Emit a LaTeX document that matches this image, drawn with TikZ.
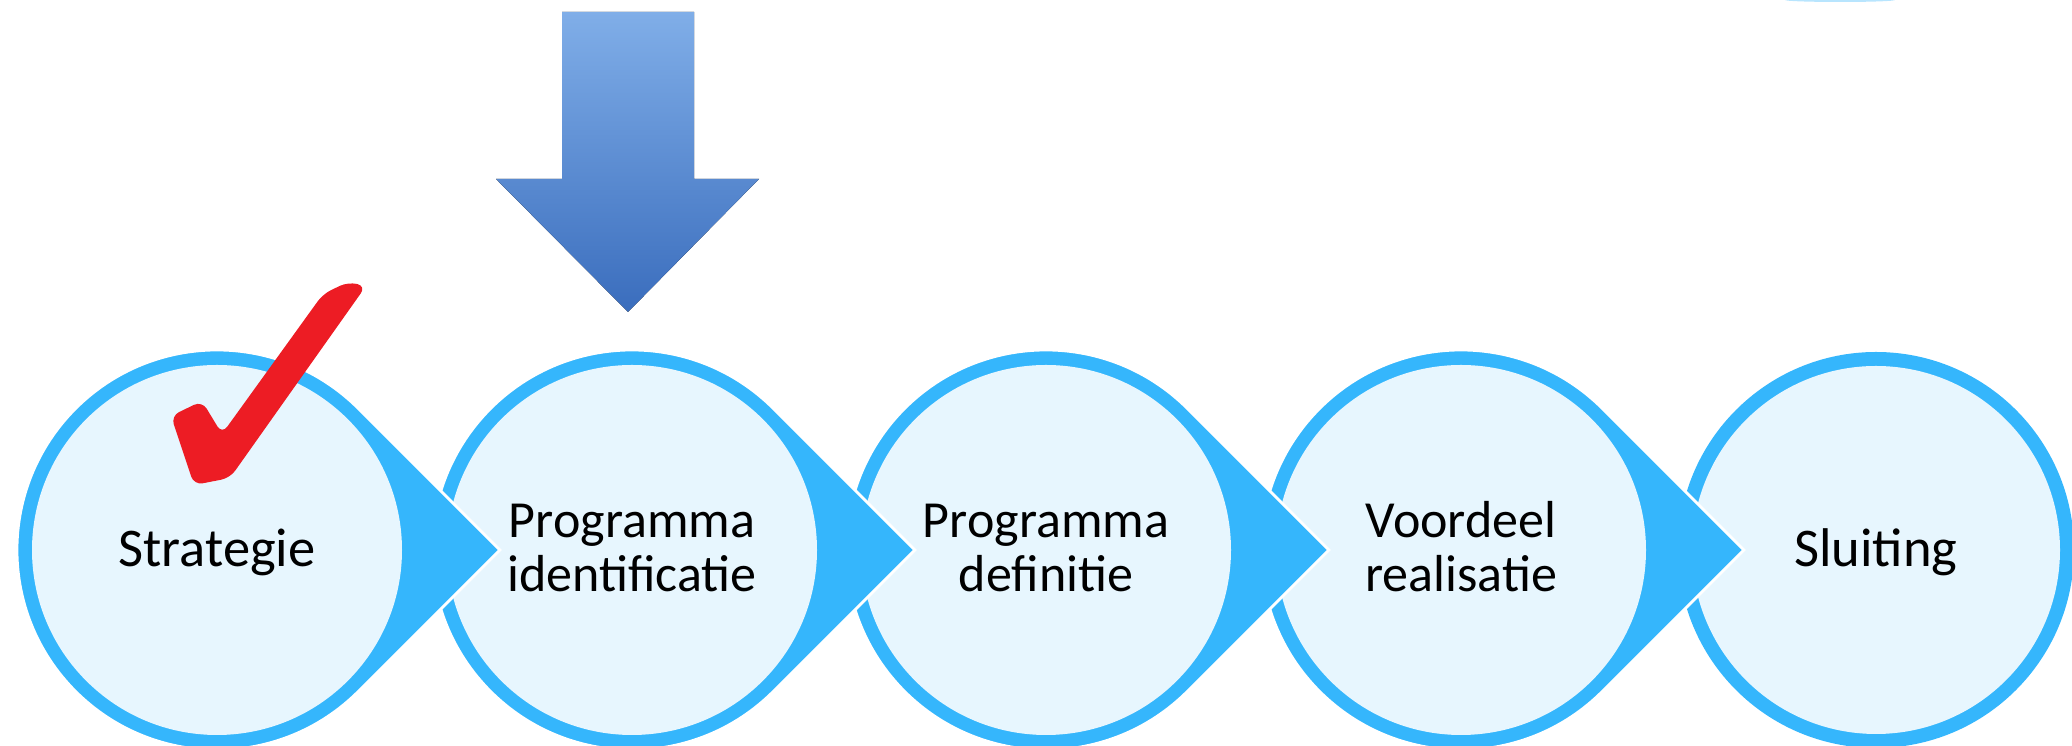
\documentclass[tikz,border=0pt]{standalone}
\usepackage{fontspec}
\setmainfont{Carlito}
\usepackage{tikz}
\definecolor{stageBlue}{HTML}{35B6FC}
\definecolor{stageFill}{HTML}{E7F6FE}
\definecolor{arrowTop}{HTML}{80AEE8}
\definecolor{arrowBottom}{HTML}{3A6DBD}
\definecolor{checkRed}{HTML}{ED1C24}
\tikzset{
  stageRing/.style={fill=stageBlue, draw=white, line width=0.8pt},
  stageInner/.style={fill=stageFill},
  oneLine/.style={font=\fontsize{15.5}{18}\selectfont, anchor=base},
  twoLines/.style={font=\fontsize{14.8}{15.6}\selectfont, align=center, anchor=base}
}
% #1 name, #2 x of centre, #3 text, #4 text style, #5 y of last baseline
\newcommand{\drawStage}[5]{
  \filldraw[stageRing] (#2+141.4,337.4) -- (#2+282.8,196) -- (#2+141.4,54.6)
    arc[start angle=-45, end angle=-315, radius=200] -- cycle;
  \fill[stageInner] (#2,196) circle[radius=185];
  \node[#4] (#1) at (#2,#5) {#3};
}
% same, without the point
\newcommand{\drawEndStage}[5]{
  \fill[stageBlue] (#2,196) circle[radius=198];
  \fill[stageInner] (#2,196) circle[radius=184];
  \node[#4] (#1) at (#2,#5) {#3};
}

\begin{document}
\begin{tikzpicture}[x=0.01cm, y=0.01cm]
  \useasboundingbox (0,0) rectangle (2072,746);
  % Stages, last one first
  \drawEndStage{sluiting}{1876}{Sluiting}{oneLine}{179}
  \drawStage{voordeel}{1461}{Voordeel\\realisatie}{twoLines}{154}
  \drawStage{definitie}{1046}{Programma\\definitie}{twoLines}{154}
  \drawStage{identificatie}{632}{Programma\\identificatie}{twoLines}{154}
  \drawStage{strategie}{217}{Strategie}{oneLine}{179}

  % Arrow
  \coordinate (arrowTip) at (628,434);
  \fill[top color=arrowTop, bottom color=arrowBottom]
    (562,734) -- (694,734) -- (694,567) -- (759,567) -- (arrowTip)
    -- (496,567) -- (562,567) -- cycle;

  % Check
  \fill[checkRed, rounded corners=2.5pt]
    (171,330) -- (202,345) -- (222,312) -- (323,452) -- (348,464)
    -- (366,460) -- (230,268) -- (194,261) -- cycle;

  % glow at the top
  \fill[stageBlue!35] (1840,746) ellipse[x radius=55, y radius=2];
\end{tikzpicture}
\end{document}
